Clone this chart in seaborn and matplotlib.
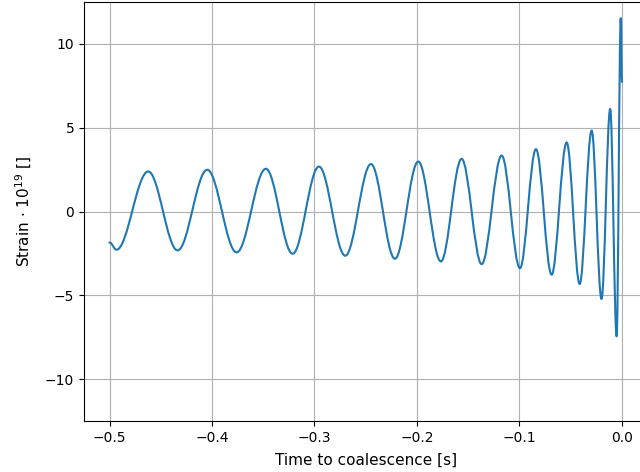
import numpy as np
import matplotlib
matplotlib.use("Agg")
import matplotlib.pyplot as plt
from matplotlib.path import Path
from matplotlib.patches import PathPatch
import seaborn as sns

# Turning points of the waveform (time [s], strain*1e19)
times = [-0.5000, -0.4933, -0.4623, -0.4336, -0.4047, -0.3760, -0.3474, -0.3213,
         -0.2956, -0.2699, -0.2448, -0.2214, -0.1986, -0.1765, -0.1563, -0.1367,
         -0.1172, -0.0993, -0.0837, -0.0684, -0.0537, -0.0410, -0.0293, -0.0197,
         -0.0112, -0.0049, -0.0009, 0.0003]
strain = [-1.85, -2.28, 2.39, -2.32, 2.49, -2.44, 2.55, -2.52,
          2.68, -2.64, 2.83, -2.82, 2.98, -2.98, 3.14, -3.14,
          3.34, -3.38, 3.72, -3.77, 4.12, -4.33, 4.83, -5.22,
          6.12, -7.45, 11.53, 7.75]
x_ticks = [-0.5, -0.4, -0.3, -0.2, -0.1, 0.0]
y_ticks = [-10, -5, 0, 5, 10]

sns.set_style("ticks", rc={
    "axes.edgecolor": "black",
    "axes.linewidth": 0.8,
    "xtick.color": "black",
    "ytick.color": "black",
    "xtick.major.size": 3.5,
    "ytick.major.size": 3.5,
    "xtick.major.width": 0.8,
    "ytick.major.width": 0.8,
    "axes.labelcolor": "black",
    "text.color": "black",
})
plt.rcParams["font.family"] = ["DejaVu Sans"]
plt.rcParams["font.size"] = 10

color = sns.color_palette("tab10")[0]

fig = plt.figure(figsize=(6.4, 4.72), dpi=100)
ax = fig.add_axes([84 / 640, 51 / 472, 563.6 / 640, 419 / 472])

# smooth curve through the turning points (horizontal tangents), drawn by the path renderer
k = 1 - 2 / np.pi
verts = [(times[0], strain[0])]
codes = [Path.MOVETO]
for i in range(len(times) - 1):
    t0, y0, t1, y1 = times[i], strain[i], times[i + 1], strain[i + 1]
    dt = t1 - t0
    verts += [(t0 + k * dt, y0), (t1 - k * dt, y1), (t1, y1)]
    codes += [Path.CURVE4] * 3
ax.add_patch(PathPatch(Path(verts, codes), facecolor="none", edgecolor=color,
                       lw=1.5, capstyle="projecting", joinstyle="round", zorder=3))

span = max(times) - min(times)
ax.set_xlim(min(times) - 0.05 * span, max(times) + 0.05 * span)
ax.set_ylim(-12.5, 12.5)
ax.set_xticks(x_ticks)
ax.set_yticks(y_ticks)
ax.grid(True, color="#b0b0b0", lw=0.8)
ax.set_axisbelow(True)
ax.set_xlabel("Time to coalescence [s]", fontsize=11, labelpad=6)
ax.set_ylabel(r"Strain $\cdot$ $10^{19}$ []", fontsize=11, labelpad=8)

fig.savefig("out.png", dpi=100)
